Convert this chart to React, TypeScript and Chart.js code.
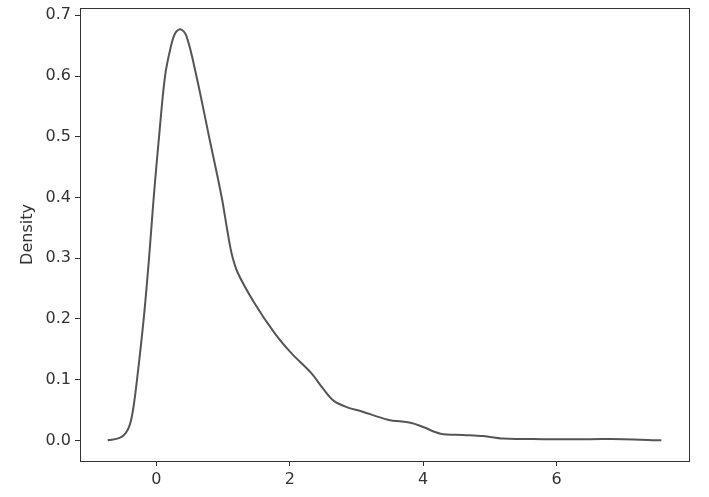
import React, { useEffect, useRef } from 'react';
import { Chart, registerables } from 'chart.js';

Chart.register(...registerables);

// KDE curve
const xValues = [
  -0.73, -0.55, -0.46, -0.4, -0.35, -0.29, -0.19, -0.11, -0.04, 0.04, 0.13, 0.21, 0.28, 0.36, 0.45,
  0.6, 0.79, 0.98, 1.06, 1.13, 1.22, 1.46, 1.77, 2.02, 2.32, 2.5, 2.66, 2.87, 3.07, 3.47,
  3.81, 4.0, 4.26, 4.6, 4.9, 5.2, 5.8, 6.5, 7.0, 7.57,
];
const density = [
  0.0, 0.004, 0.012, 0.025, 0.05, 0.1, 0.2, 0.3, 0.4, 0.5, 0.6, 0.645, 0.67, 0.677, 0.666,
  0.6, 0.5, 0.4, 0.348, 0.307, 0.276, 0.228, 0.177, 0.144, 0.111, 0.085, 0.065, 0.054, 0.048, 0.034,
  0.029, 0.022, 0.011, 0.009, 0.007, 0.003, 0.002, 0.002, 0.002, 0.0,
];
const xTicks = [0, 2, 4, 6];
const yTicks = [0, 0.1, 0.2, 0.3, 0.4, 0.5, 0.6, 0.7];

const INK = '#333333';
const FONT = { family: 'DejaVu Sans', size: 16 };

// matplotlib draws all four spines
const boxPlugin = {
  id: 'box',
  afterDraw(chart: any) {
    const { ctx, chartArea } = chart;
    ctx.save();
    ctx.strokeStyle = INK;
    ctx.lineWidth = 1;
    ctx.strokeRect(chartArea.left + 0.5, chartArea.top + 0.5, chartArea.right - chartArea.left, chartArea.bottom - chartArea.top);
    ctx.restore();
  },
};

const App: React.FC = () => {
  const canvasRef = useRef<HTMLCanvasElement>(null);

  useEffect(() => {
    if (!canvasRef.current) return;
    const chart = new Chart(canvasRef.current, {
      type: 'line',
      data: {
        datasets: [
          {
            data: xValues.map((x, i) => ({ x, y: density[i] })),
            borderColor: '#555555',
            borderWidth: 2,
            pointRadius: 0,
            tension: 0.35,
            fill: false,
          },
        ],
      },
      options: {
        animation: false,
        responsive: false,
        layout: { padding: { top: 8, right: 20, left: 0, bottom: 0 } },
        plugins: { legend: { display: false }, tooltip: { enabled: false } },
        scales: {
          x: {
            type: 'linear',
            min: -1.145,
            max: 7.985,
            afterBuildTicks: (axis: any) => {
              axis.ticks = xTicks.map((v) => ({ value: v }));
            },
            afterFit: (axis: any) => {
              axis.height = 36;
              axis.paddingLeft = 0;
              axis.paddingRight = 0;
            },
            grid: { drawOnChartArea: false, drawTicks: true, tickLength: 5, color: INK },
            border: { display: true, color: INK },
            ticks: {
              color: INK,
              font: FONT,
              padding: 4,
              maxRotation: 0,
              callback: (v: any) => String(v),
            },
          },
          y: {
            type: 'linear',
            min: -0.034,
            max: 0.712,
            afterBuildTicks: (axis: any) => {
              axis.ticks = yTicks.map((v) => ({ value: v }));
            },
            afterFit: (axis: any) => {
              axis.width = 80;
              axis.paddingTop = 0;
              axis.paddingBottom = 0;
            },
            grid: { drawOnChartArea: false, drawTicks: true, tickLength: 5, color: INK },
            border: { display: true, color: INK },
            title: {
              display: true,
              text: 'Density',
              color: INK,
              font: FONT,
              padding: { top: 18, bottom: 0 },
            },
            ticks: {
              color: INK,
              font: FONT,
              padding: 4,
              callback: (v: any) => Number(v).toFixed(1),
            },
          },
        },
      },
      plugins: [boxPlugin],
    });
    return () => chart.destroy();
  }, []);

  return (
    <div style={{ position: 'absolute', left: 0, top: 0, width: 709, height: 497, background: '#fff' }}>
      <canvas ref={canvasRef} width={709} height={497} />
    </div>
  );
};

export default App;
